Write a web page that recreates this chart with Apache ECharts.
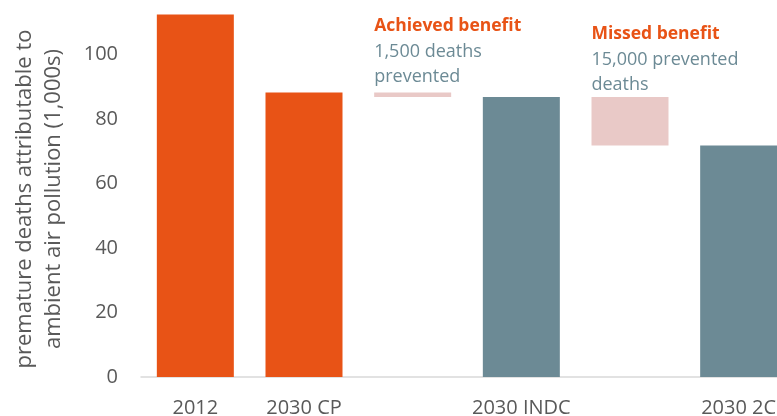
<!DOCTYPE html>
<html>
<head>
<meta charset="utf-8">
<script src="https://cdn.jsdelivr.net/npm/echarts@6/dist/echarts.min.js"></script>
<style>
html,body{margin:0;padding:0;background:#fff;}
#chart{width:777px;height:416px;}
</style>
</head>
<body>
<div id="chart"></div>
<script>
// categories, the blank ones hold the floating benefit bars
var categories=["2012","2030 CP","","2030 INDC","","2030 2C"];
var totals=[112.4,88.2,"-",86.8,"-",71.8];
var benefitBase=["-","-",86.8,"-",71.8,"-"];
var benefitSize=["-","-",1.4,"-",15.0,"-"];
var yTicks=[0,20,40,60,80,100,120];
var yTitle=["premature deaths attributable to","ambient air pollution (1,000s)"];
var notes={
	2:{title:"Achieved benefit",lines:["1,500 deaths","prevented"],dy:-80},
	4:{title:"Missed benefit",lines:["15,000 prevented","deaths"],dy:-77}
};

var ORANGE="#E85316";
var SLATE="#6C8A95";
var PINK="#E9C9C7";
var GREY_TEXT="#595959";

var chart=echarts.init(document.getElementById("chart"));

//主柱子 前两个橙色 后面灰蓝
var totalData=totals.map(function(v,i){
	return {value:v,itemStyle:{color:(i<2)?ORANGE:SLATE}};
});

//浮动柱子加注释
var sizeData=benefitSize.map(function(v,i){
	var n=notes[i];
	if(!n){return v;}
	return {
		value:v,
		label:{
			show:true,
			position:[0,n.dy],
			formatter:"{t|"+n.title+"}\n{b|"+n.lines.join("}\n{b|")+"}",
			rich:{
				t:{fontFamily:"Open Sans",fontWeight:"bold",fontSize:17.5,color:ORANGE,lineHeight:27},
				b:{fontFamily:"Open Sans",fontSize:18,color:SLATE,lineHeight:25}
			}
		}
	};
});

var option={
	animation:false,
	backgroundColor:"#fff",
	grid:{left:141,right:-16,top:-10,bottom:39,containLabel:false,outerBoundsMode:"none"},
	//纵轴标题 两行
	graphic:[{
		type:"text",
		x:39,
		y:199,
		rotation:Math.PI/2,
		style:{
			text:yTitle.join("\n"),
			fontFamily:"Open Sans",
			fontSize:22,
			lineHeight:29,
			fill:GREY_TEXT,
			align:"center",
			verticalAlign:"middle"
		}
	}],
	xAxis:{
		type:"category",
		data:categories,
		axisLine:{lineStyle:{color:"#D9D9D9",width:1.5}},
		axisTick:{show:false},
		axisLabel:{color:GREY_TEXT,fontFamily:"Open Sans",fontSize:20,margin:21,interval:0}
	},
	yAxis:{
		type:"value",
		min:yTicks[0],
		max:yTicks[yTicks.length-1],
		interval:20,
		splitLine:{show:false},
		axisLine:{show:false},
		axisTick:{show:false},
		axisLabel:{color:GREY_TEXT,fontFamily:"Open Sans",fontSize:20,margin:23}
	},
	series:[
		{
			type:"bar",
			stack:"s",
			barWidth:77,
			data:totalData
		},
		{
			type:"bar",
			stack:"s",
			barWidth:77,
			itemStyle:{color:"transparent"},
			data:benefitBase
		},
		{
			type:"bar",
			stack:"s",
			barWidth:77,
			itemStyle:{color:PINK},
			data:sizeData
		}
	]
};
chart.setOption(option);
</script>
</body>
</html>
